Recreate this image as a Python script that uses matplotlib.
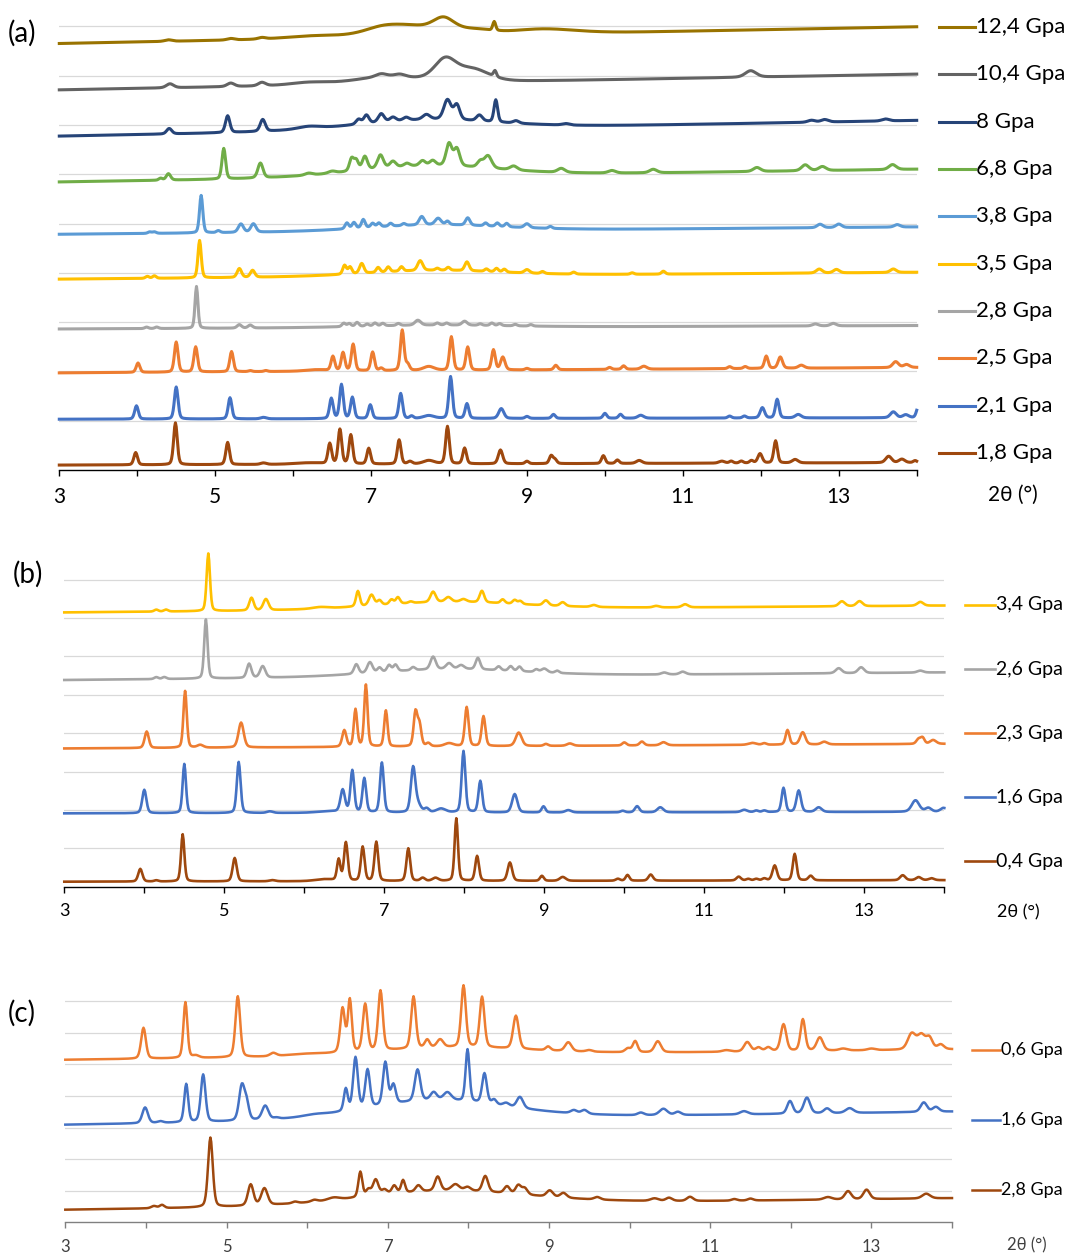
import numpy as np
import matplotlib
matplotlib.use("Agg")
import matplotlib.pyplot as plt
from matplotlib.lines import Line2D

plt.rcParams['font.family'] = ['Lato', 'DejaVu Sans']

# ---- data: baseline (left, right) + peaks (2theta, height, fwhm) ----
# panel (a)
a_labels = ['12,4 Gpa', '10,4 Gpa', '8 Gpa', '6,8 Gpa', '3,8 Gpa',
            '3,5 Gpa', '2,8 Gpa', '2,5 Gpa', '2,1 Gpa', '1,8 Gpa']
a_colors = ['#997300', '#636363', '#264478', '#70AD47', '#5B9BD5',
            '#FFC000', '#A5A5A5', '#ED7D31', '#4472C4', '#9E480E']
a_base = [(8.65, 8.99), (7.71, 8.03), (6.77, 7.09), (5.84, 6.10), (4.78, 4.93),
          (3.87, 4.01), (2.86, 2.93), (1.97, 2.08), (1.03, 1.06), (0.10, 0.15)]

a_124 = [(4.4, .03, .1), (5.2, .03, .1), (5.6, .03, .1), (6.3, .05, .8), (7.15, .17, .55),
         (7.55, .16, .6), (7.93, .28, .3), (8.3, .1, .5), (8.58, .18, .04), (9.2, .1, .9)]
a_104 = [(4.42, .08, .1), (5.2, .07, .1), (5.6, .07, .1), (6.2, .05, .5), (7.2, .14, .9),
         (7.13, .06, .15), (7.37, .05, .15), (7.95, .42, .3), (8.3, .25, .45), (8.59, .12, .04),
         (11.87, .13, .15)]
a_8 = [(4.41, .11, .07), (5.16, .34, .06), (5.61, .24, .07), (6.2, .05, .3), (7.7, .2, 2.0),
       (6.84, .1, .07), (6.94, .17, .07), (7.13, .17, .08), (7.28, .08, .08), (7.45, .06, .08),
       (7.71, .1, .1), (7.98, .4, .1), (8.1, .3, .08), (8.39, .12, .08), (8.6, .45, .05),
       (8.86, .05, .08), (9.5, .03, .1), (12.65, .04, .1), (12.82, .05, .1), (13.6, .04, .1)]
a_68 = [(4.3, .04), (4.4, .13, .06), (5.11, .62, .05), (5.58, .3, .07), (6.2, .04, .1),
        (6.5, .04, .1), (7.7, .22, 2.0), (6.75, .25, .06), (6.81, .2, .06), (6.92, .27, .07),
        (7.12, .27, .08), (7.28, .12, .08), (7.46, .06, .08), (7.66, .1, .08), (7.79, .1, .08),
        (8.0, .45, .08), (8.1, .35, .08), (8.4, .12, .08), (8.5, .25, .1), (8.83, .08, .1),
        (9.44, .08, .1), (10.09, .05, .1), (10.62, .07, .1), (11.95, .08, .1), (12.57, .12, .1),
        (12.79, .08, .1), (13.69, .1, .1)]
a_38 = [(4.16, .03), (4.22, .03), (4.82, .76, .045), (5.04, .04), (5.33, .17, .07),
        (5.49, .17, .07), (7.8, .13, 1.9), (6.69, .12), (6.78, .12), (6.9, .17), (7.02, .08),
        (7.1, .08), (7.25, .06), (7.42, .04), (7.65, .17, .07), (7.86, .13, .08), (7.98, .07),
        (8.24, .15, .06), (8.47, .06), (8.62, .07), (8.74, .07), (9.0, .08, .07), (9.3, .04),
        (12.76, .07, .08), (13.0, .07, .08), (13.75, .05, .08)]
a_35 = [(4.13, .04), (4.22, .05), (4.80, .76, .045), (5.31, .18, .06), (5.48, .14, .06),
        (7.8, .12, 1.9), (6.66, .18), (6.73, .14), (6.88, .2, .06), (7.09, .1), (7.22, .1),
        (7.39, .09), (7.63, .2, .07), (7.85, .04), (7.99, .06), (8.23, .18, .06), (8.48, .05),
        (8.61, .07), (8.71, .06), (9.0, .07, .07), (9.2, .04), (9.6, .04), (10.35, .03),
        (10.75, .06), (12.75, .08, .08), (12.97, .07, .08), (13.7, .07, .08)]
a_28 = [(4.12, .03), (4.25, .03), (4.76, .85, .04), (5.31, .07, .06), (5.45, .06, .06),
        (7.8, .05, 2.0), (6.65, .07), (6.72, .06), (6.82, .08), (6.95, .04), (7.05, .06),
        (7.15, .05), (7.35, .04), (7.6, .1, .08), (7.85, .04), (7.97, .04), (8.2, .08, .07),
        (8.4, .03), (8.55, .05), (8.65, .04), (8.85, .03), (9.05, .03), (12.7, .04, .08),
        (12.93, .05, .08)]
a_25 = [(4.01, .19), (4.50, .61), (4.75, .51), (5.21, .41, .05), (5.45, .02), (5.65, .02),
        (6.3, .03, .3), (6.51, .29), (6.64, .37), (6.77, .54), (7.02, .38), (7.13, .05),
        (7.40, .82, .05), (7.47, .12), (7.74, .08, .15), (8.03, .68), (8.24, .47),
        (8.57, .41, .05), (8.69, .26, .06), (9.0, .03), (9.37, .09), (10.06, .04), (10.24, .07),
        (10.5, .06, .08), (11.6, .04), (11.8, .04), (12.07, .25), (12.25, .23, .06),
        (12.52, .06, .08), (13.73, .12, .08), (13.87, .06, .08)]
a_21 = [(3.99, .27), (4.50, .65), (5.19, .43, .05), (5.62, .03, .08), (6.49, .41), (6.62, .69),
        (6.76, .43), (6.99, .28), (7.38, .51, .05), (7.52, .05), (7.74, .06, .15), (8.02, .85, .05),
        (8.23, .30), (8.67, .20, .07), (9.0, .04), (9.34, .08), (10.0, .10), (10.2, .08),
        (10.46, .06, .08), (11.6, .04), (11.79, .04), (12.02, .21, .06), (12.21, .38),
        (12.48, .07, .08), (13.7, .12, .08), (13.86, .06, .08), (14.02, .22)]
a_18 = [(3.98, .25), (4.49, .85), (5.16, .45), (5.62, .03, .08), (6.2, .03, .4), (6.47, .41),
        (6.60, .70), (6.74, .59), (6.97, .32), (7.36, .49), (7.50, .05, .06), (7.74, .07, .15),
        (7.98, .76), (8.20, .32), (8.66, .28, .06), (9.0, .05), (9.31, .16), (9.36, .08),
        (9.98, .16), (10.16, .07), (10.44, .06, .08), (11.5, .04, .08), (11.62, .04),
        (11.75, .04), (11.88, .05), (11.99, .19, .06), (12.19, .45), (12.44, .07, .08),
        (13.64, .13, .08), (13.81, .07, .08), (13.98, .04)]
a_peaks = [a_124, a_104, a_8, a_68, a_38, a_35, a_28, a_25, a_21, a_18]

# panel (b)
b_labels = ['3,4 Gpa', '2,6 Gpa', '2,3 Gpa', '1,6 Gpa', '0,4 Gpa']
b_colors = ['#FFC000', '#A5A5A5', '#ED7D31', '#4472C4', '#9E480E']
b_base = [(7.14, 7.32), (5.38, 5.58), (3.60, 3.72), (1.91, 1.95), (0.13, 0.17)]

b_34 = [(4.15, .05), (4.27, .05), (4.8, 1.5, .045), (5.34, .33, .06), (5.52, .29, .07),
        (6.2, .04, .2), (7.8, .2, 2.0), (6.67, .4, .05), (6.84, .28, .07), (6.94, .12),
        (7.09, .12), (7.17, .17), (7.33, .04), (7.61, .27, .07), (7.8, .12, .08), (7.99, .07, .08),
        (8.22, .3, .06), (8.48, .1), (8.63, .1), (8.7, .08), (9.02, .13, .07), (9.23, .1, .07),
        (9.62, .05, .08), (10.4, .04, .08), (10.76, .08, .08), (12.72, .13, .08),
        (12.94, .13, .08), (13.7, .1, .08)]
b_26 = [(4.15, .05), (4.25, .05), (4.77, 1.54, .045), (5.31, .37, .06), (5.48, .3, .07),
        (7.8, .2, 2.0), (6.65, .25, .06), (6.82, .28, .07), (6.94, .12), (7.06, .17), (7.14, .17),
        (7.36, .08), (7.61, .33, .07), (7.81, .15, .08), (7.96, .1, .08), (8.17, .3, .06),
        (8.43, .1), (8.58, .12), (8.69, .12), (8.9, .07), (9.0, .1, .08), (9.16, .06),
        (10.5, .05, .08), (10.73, .07, .08), (12.68, .13, .08), (12.96, .15, .08), (13.7, .05, .08)]
b_23 = [(4.03, .43), (4.51, 1.48, .045), (4.7, .07, .08), (5.21, .65, .07), (6.5, .43),
        (6.64, .97, .045), (6.77, 1.61, .045), (7.02, .94, .045), (7.39, .89, .05),
        (7.44, .55, .05), (7.55, .08), (7.81, .08, .12), (8.03, 1.02, .05), (8.24, .78, .05),
        (8.68, .35, .08), (9.02, .05), (9.32, .06, .08), (10.0, .08), (10.22, .1, .06),
        (10.49, .08, .08), (11.6, .05, .1), (11.75, .04), (12.04, .38, .05), (12.23, .32, .07),
        (12.5, .07, .08), (13.68, .13, .06), (13.73, .15, .05), (13.86, .1, .08)]
b_16 = [(4.0, .61), (4.5, 1.28, .045), (5.18, 1.33, .05), (5.57, .04, .08), (6.3, .04, .3),
        (6.48, .58, .06), (6.6, 1.09, .05), (6.75, .89, .05), (6.97, 1.3, .05), (7.36, 1.15, .06),
        (7.42, .2, .08), (7.53, .1, .06), (7.71, .1, .12), (7.99, 1.6, .05), (8.2, .82, .05),
        (8.63, .48, .07), (8.99, .16, .05), (9.3, .06, .08), (9.98, .04), (10.16, .16, .06),
        (10.45, .13, .08), (11.5, .06, .08), (11.65, .04), (11.75, .04), (11.99, .63, .05),
        (12.18, .56, .06), (12.43, .12, .08), (13.64, .3, .1), (13.8, .1, .08), (13.99, .1, .08)]
b_04 = [(3.95, .33), (4.15, .03), (4.48, 1.23, .045), (5.13, .61), (5.6, .03, .08),
        (6.25, .05, .25), (6.43, .55, .045), (6.52, 1.0, .05), (6.73, .89, .05), (6.9, 1.02, .05),
        (7.3, .85, .05), (7.48, .08, .06), (7.64, .08, .08), (7.9, 1.63, .045), (8.16, .65, .05),
        (8.57, .48, .06), (8.97, .13, .05), (9.23, .1, .08), (9.92, .05), (10.04, .15, .05),
        (10.33, .16, .06), (11.43, .1, .06), (11.55, .04), (11.65, .04), (11.75, .05),
        (11.88, .39, .06), (12.13, .69, .05), (12.33, .12, .06), (13.48, .13, .07),
        (13.68, .08, .07), (13.84, .05, .07)]
b_peaks = [b_34, b_26, b_23, b_16, b_04]

# panel (c)
c_labels = ['0,6 Gpa', '1,6 Gpa', '2,8 Gpa']
c_colors = ['#ED7D31', '#4472C4', '#9E480E']
c_base = [(5.14, 5.47), (3.08, 3.50), (0.39, 0.76)]

c_06 = [(3.97, .98, .06), (4.49, 1.77, .05), (4.62, .07, .08), (5.14, 1.93, .06), (5.58, .1, .08),
        (6.0, .05, .5), (7.8, .25, 2.0), (6.44, 1.4, .06), (6.53, 1.65, .05), (6.72, 1.5, .06),
        (6.91, 1.9, .06), (7.32, 1.65, .06), (7.49, .25, .06), (7.65, .25, .08), (7.94, 1.95, .06),
        (8.17, 1.6, .06), (8.59, 1.05, .07), (8.99, .12, .06), (9.24, .28, .08), (9.5, .05, .08),
        (9.98, .12), (10.07, .35, .06), (10.35, .35, .08), (11.2, .05, .1), (11.46, .3, .08),
        (11.6, .12), (11.72, .12), (11.91, .85, .07), (12.15, 1.0, .06), (12.36, .42, .08),
        (12.65, .06, .1), (13.0, .05, .1), (13.5, .5, .1), (13.62, .45, .1), (13.72, .35, .08),
        (13.86, .15, .08)]
c_16 = [(3.99, .5), (4.18, .05), (4.5, 1.21, .05), (4.71, 1.5, .06), (5.19, 1.1, .07),
        (5.25, .5, .06), (5.48, .44, .08), (5.62, .04), (6.1, .05, .3), (7.6, .6, 1.9),
        (6.48, .7, .05), (6.6, 1.65, .06), (6.75, 1.2, .06), (6.97, 1.35, .06), (7.07, .6, .06),
        (7.37, 1.0, .07), (7.57, .25, .08), (7.74, .25, .1), (7.99, 1.65, .05), (8.2, .95, .06),
        (8.32, .15, .06), (8.47, .1, .08), (8.64, .35, .08), (9.31, .1, .08), (9.44, .12, .08),
        (10.14, .08, .08), (10.42, .2, .1), (10.6, .1, .08), (11.42, .1, .1), (11.99, .4, .07),
        (12.2, .5, .08), (12.45, .15, .08), (12.73, .15, .1), (13.65, .3, .08), (13.8, .15, .08)]
c_28 = [(4.1, .07), (4.2, .1, .06), (4.8, 2.2, .06), (5.3, .67, .07), (5.47, .53, .08),
        (5.85, .05), (6.09, .06, .08), (6.33, .08, .15), (7.7, .45, 2.2), (6.66, .8, .05),
        (6.76, .2, .06), (6.85, .5, .07), (6.96, .15), (7.08, .25, .06), (7.19, .4, .05),
        (7.38, .2, .07), (7.62, .45, .07), (7.84, .2, .1), (7.99, .12, .08), (8.21, .5, .07),
        (8.48, .22, .07), (8.62, .28, .07), (8.7, .2, .07), (9.01, .2, .08), (9.18, .15, .08),
        (9.6, .08, .08), (10.31, .08, .1), (10.49, .1, .08), (10.75, .13, .08), (11.3, .05),
        (11.5, .06), (12.46, .08, .1), (12.71, .26, .08), (12.94, .3, .08), (13.68, .15, .1)]
c_peaks = [c_06, c_16, c_28]

W, H = 1069, 1256
two_theta = np.arange(3.0, 14.0005, 0.01)


def pattern(x, base, peaks, w0, wscale):
    y = base[0] + (base[1] - base[0]) * (x - 3.0) / 11.0
    for p in peaks:
        w = (p[2] if len(p) > 2 else w0) * wscale
        d = (x - p[0]) / w
        y = y + p[1] * (0.7 * np.exp(-4 * np.log(2) * d ** 2) + 0.3 / (1 + 4 * d ** 2))
    return y


def make_axes(fig, left, right, axis_y, ylim_top, unit_px):
    top = axis_y - ylim_top * unit_px
    ax = fig.add_axes([left / W, 1 - axis_y / H, (right - left) / W, (axis_y - top) / H])
    ax.set_xlim(3, 14)
    ax.set_ylim(0, ylim_top)
    return ax


def draw_panel(fig, ax, labels, colors, bases, peaks, w0, wscale, lw, ngrid,
               leg_x, leg_y0, leg_dy, fs_leg, fs_tick, axis_col, tick_col,
               xlab_pos, tag, tag_pos, pad):
    for g in range(1, ngrid + 1):
        ax.axhline(g, color='#D9D9D9', lw=0.9, zorder=0)
    for lab, col, b, pk in zip(labels[::-1], colors[::-1], bases[::-1], peaks[::-1]):
        ax.plot(two_theta, pattern(two_theta, b, pk, w0, wscale), color=col, lw=lw,
                solid_joinstyle='round', clip_on=False)
    for s in ['top', 'right', 'left']:
        ax.spines[s].set_visible(False)
    ax.spines['bottom'].set_color(axis_col)
    ax.spines['bottom'].set_linewidth(1.0)
    ax.set_yticks([])
    ax.set_xticks(range(3, 15))
    ax.set_xticklabels([str(t) if t % 2 == 1 else '' for t in range(3, 15)])
    ax.tick_params(axis='x', direction='out', length=4, width=1.0, color=axis_col,
                   labelsize=fs_tick, labelcolor=tick_col, pad=pad)
    for i, (lab, col) in enumerate(zip(labels, colors)):
        y = leg_y0 + i * leg_dy
        fig.add_artist(Line2D([leg_x[0] / W, leg_x[1] / W], [1 - y / H, 1 - y / H],
                              color=col, lw=lw, transform=fig.transFigure))
        fig.text(leg_x[1] / W + 0.001, 1 - y / H, lab, fontsize=fs_leg,
                 va='center', ha='left', color='#000000')
    fig.text(xlab_pos[0] / W, 1 - xlab_pos[1] / H, '2θ (°)', fontsize=fs_tick,
             ha='center', va='center', color=tick_col)
    fig.text(tag_pos[0] / W, 1 - tag_pos[1] / H, tag, fontsize=20,
             ha='left', va='center', color='#000000')


fig = plt.figure(figsize=(W / 100, H / 100), dpi=100)

ax_a = make_axes(fig, 59.3, 916.7, 470.0, 9.5, 49.3)
draw_panel(fig, ax_a, a_labels, a_colors, a_base, a_peaks, 0.05, 1.1, 2.2, 9,
           (939, 975), 26.7, 47.4, 16, 15, '#000000', '#000000',
           (1013, 495), '(a)', (8, 33), 8)

ax_b = make_axes(fig, 64.3, 944.3, 886.7, 8.9, 38.4)
draw_panel(fig, ax_b, b_labels, b_colors, b_base, b_peaks, 0.055, 1.1, 1.9, 8,
           (965, 995), 605, 64, 14, 13, '#000000', '#000000',
           (1018, 912), '(b)', (13, 574), 8)

ax_c = make_axes(fig, 65.3, 952.0, 1222.3, 7.5, 31.6)
draw_panel(fig, ax_c, c_labels, c_colors, c_base, c_peaks, 0.07, 1.15, 1.8, 7,
           (972, 1000), 1050, 70, 13, 12, '#808080', '#404040',
           (1027, 1245), '(c)', (8, 1013), 8)

fig.savefig('out.png', dpi=100)
